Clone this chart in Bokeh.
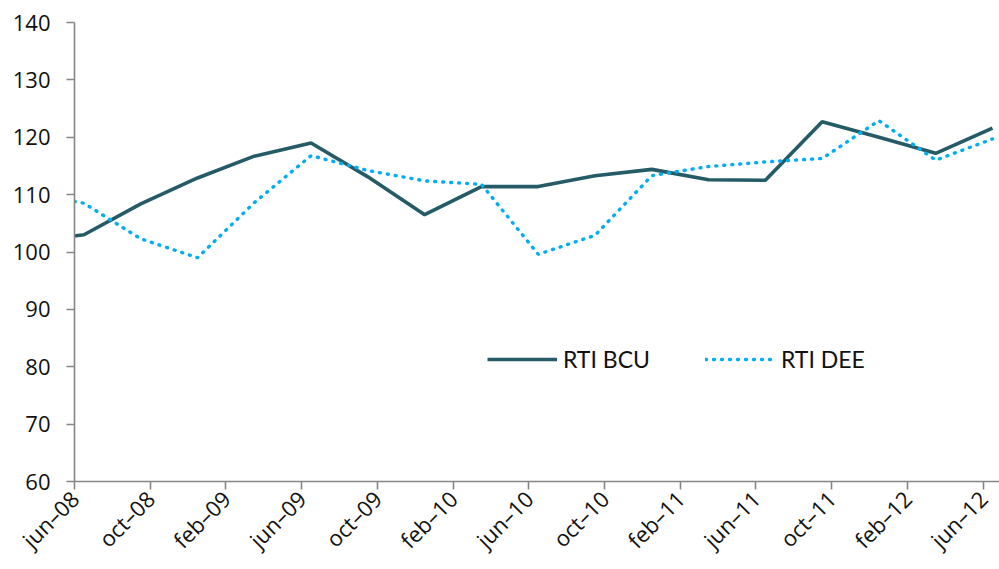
import math
from bokeh.plotting import figure
from bokeh.models import Range1d, FixedTicker, Legend, LegendItem
from bokeh.embed import file_html
from bokeh.resources import INLINE

# quarterly observations (mid-month), first one is clipped by the axis start
periods = ["2008-03", "2008-06", "2008-09", "2008-12", "2009-03", "2009-06",
           "2009-09", "2009-12", "2010-03", "2010-06", "2010-09", "2010-12",
           "2011-03", "2011-06", "2011-09", "2011-12", "2012-03", "2012-06"]
rti_bcu = [101.8, 103.0, 108.4, 112.9, 116.7, 119.0, 113.1, 106.5, 111.4,
           111.4, 113.3, 114.4, 112.6, 112.5, 122.7, 120.0, 117.2, 121.6]
rti_dee = [110.4, 108.5, 102.3, 99.0, 108.6, 116.8, 114.2, 112.4, 111.8,
           99.6, 102.9, 113.3, 114.9, 115.7, 116.3, 122.9, 116.0, 119.7]

tick_periods = ["2008-06", "2008-10", "2009-02", "2009-06", "2009-10", "2010-02",
                "2010-06", "2010-10", "2011-02", "2011-06", "2011-10", "2012-02",
                "2012-06"]
tick_labels = ["jun–08", "oct–08", "feb–09", "jun–09", "oct–09", "feb–10",
               "jun–10", "oct–10", "feb–11", "jun–11", "oct–11", "feb–12",
               "jun–12"]
y_ticks = [60, 70, 80, 90, 100, 110, 120, 130, 140]


def month_index(s):
    y, m = s.split("-")
    return (int(y) - 2008) * 12 + (int(m) - 6)


x_data = [month_index(s) + 0.5 for s in periods]
x_ticks = [month_index(s) for s in tick_periods]

p = figure(width=999, height=569, output_backend="svg", toolbar_location=None,
           x_range=Range1d(0, 48.87), y_range=Range1d(60, 140),
           min_border_left=74, min_border_right=0, min_border_top=22,
           min_border_bottom=88)
p.outline_line_color = None
p.grid.visible = False
p.background_fill_color = "white"

bcu = p.line(x_data, rti_bcu, line_color="#245B67", line_width=3.6)
dee = p.line(x_data, rti_dee, line_color="#00AEEF", line_width=3.4,
             line_dash="1 7", line_cap="round")

axis_col = "#868686"
for ax in (p.xaxis[0], p.yaxis[0]):
    ax.axis_line_color = axis_col
    ax.axis_line_width = 1.6
    ax.major_tick_line_color = axis_col
    ax.major_tick_line_width = 1.6
    ax.major_tick_in = 0
    ax.major_tick_out = 8
    ax.minor_tick_line_color = None
    ax.major_label_text_font = "Open Sans"
    ax.major_label_text_color = "#111111"

p.yaxis.major_label_text_font_size = "22px"
p.yaxis.ticker = FixedTicker(ticks=y_ticks)
p.yaxis.major_label_standoff = 16

p.xaxis.major_label_text_font_size = "22px"
p.xaxis.ticker = FixedTicker(ticks=x_ticks)
p.xaxis.major_label_overrides = {t: l for t, l in zip(x_ticks, tick_labels)}
p.xaxis.major_label_orientation = math.pi / 4
p.xaxis.major_label_standoff = 5

legend = Legend(items=[LegendItem(label="RTI BCU", renderers=[bcu]),
                       LegendItem(label="RTI DEE", renderers=[dee])],
                location=(413, 108), orientation="horizontal",
                border_line_color=None, background_fill_alpha=0,
                padding=0, margin=0, spacing=55, glyph_width=70,
                label_standoff=6, label_text_font="Lato",
                label_text_font_size="23px", label_text_color="#111111")
p.add_layout(legend)

open("out.html", "w").write(file_html(p, INLINE))
